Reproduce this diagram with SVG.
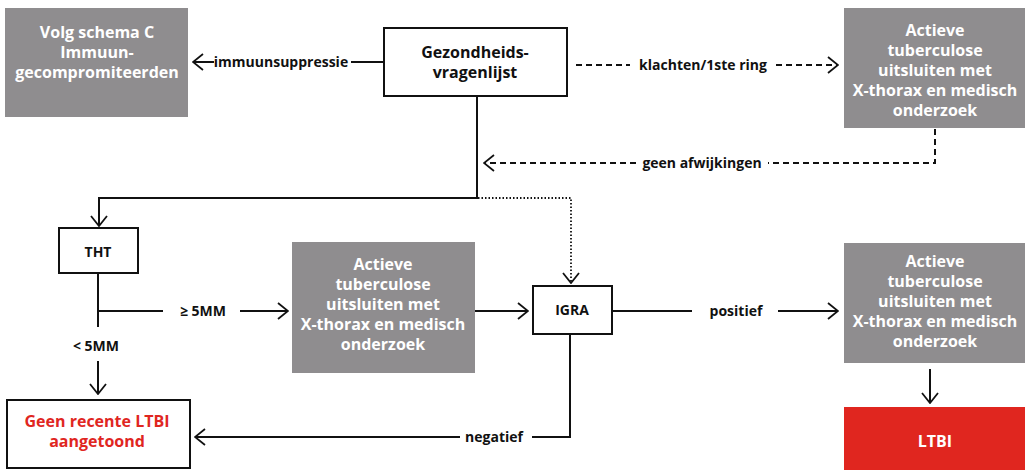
<svg xmlns="http://www.w3.org/2000/svg" width="1025" height="470" viewBox="0 0 1025 470">
<defs>
<marker id="arr" viewBox="0 0 12 18" refX="11" refY="9" markerWidth="12" markerHeight="18" markerUnits="userSpaceOnUse" orient="auto">
<path d="M1,1 L11,9 L1,17" fill="none" stroke="#111" stroke-width="1.8"/>
</marker>
<style>
.gray{fill:#8f8d8f}
.white{fill:#fff;stroke:#111;stroke-width:2}
.red{fill:#e0261f}
.t{font-family:"Open Sans","Liberation Sans",sans-serif;font-weight:700;font-size:16px;text-anchor:middle}
.tw{fill:#fff}
.tb{fill:#111}
.tr{fill:#e0261f}
.l{font-family:"Open Sans","Liberation Sans",sans-serif;font-weight:700;font-size:14px;text-anchor:middle;fill:#111}
.c{fill:none;stroke:#111;stroke-width:2}
.dash{stroke-dasharray:6 4}
.dot{stroke-dasharray:1.5 2;stroke-width:1.8}
</style>
</defs>
<g id="connectors">
<path class="c" d="M383,62 H351"/>
<path class="c" d="M214,62 H193" marker-end="url(#arr)"/>
<path class="c dash" d="M576,65 H630"/>
<path class="c dash" d="M776,65 H838" marker-end="url(#arr)"/>
<path class="c dash" d="M935,129 V163 H768"/>
<path class="c dash" d="M636,163 H484" marker-end="url(#arr)"/>
<path class="c" d="M477,97 V198 H99 V226" marker-end="url(#arr)"/>
<path class="c dot" d="M478,198 H571 V283" marker-end="url(#arr)"/>
<path class="c" d="M98,273 V327"/>
<path class="c" d="M98,311 H163"/>
<path class="c" d="M240,311 H288" marker-end="url(#arr)"/>
<path class="c" d="M475,311 H528" marker-end="url(#arr)"/>
<path class="c" d="M98,361 V394" marker-end="url(#arr)"/>
<path class="c" d="M570,334 V437 H532"/>
<path class="c" d="M460,437 H195" marker-end="url(#arr)"/>
<path class="c" d="M612,311 H692"/>
<path class="c" d="M778,311 H838" marker-end="url(#arr)"/>
<path class="c" d="M930,369 V403" marker-end="url(#arr)"/>
<text class="l" x="281" y="67">immuunsuppressie</text>
<text class="l" x="703" y="70">klachten/1ste ring</text>
<text class="l" x="702" y="168">geen afwijkingen</text>
<text class="l" x="203" y="316">≥ 5MM</text>
<text class="l" x="96" y="351">&lt; 5MM</text>
<text class="l" x="494" y="442">negatief</text>
<text class="l" x="736" y="316">positief</text>
</g>
<g id="n-volg">
<rect class="gray" x="5" y="8" width="183" height="109"/>
<text class="t tw" x="97" y="38">Volg schema C</text>
<text class="t tw" x="97" y="58">Immuun-</text>
<text class="t tw" x="97" y="78">gecompromiteerden</text>
</g>
<g id="n-gez">
<rect class="white" x="384" y="28" width="183" height="68"/>
<text class="t tb" x="475" y="58">Gezondheids-</text>
<text class="t tb" x="475" y="78">vragenlijst</text>
</g>
<g id="n-act1">
<rect class="gray" x="844" y="8" width="181" height="120"/>
<text class="t tw" x="935" y="36">Actieve</text>
<text class="t tw" x="935" y="56">tuberculose</text>
<text class="t tw" x="935" y="76">uitsluiten met</text>
<text class="t tw" x="935" y="96">X-thorax en medisch</text>
<text class="t tw" x="935" y="116">onderzoek</text>
</g>
<g id="n-tht">
<rect class="white" x="59" y="228" width="79" height="45"/>
<text class="t tb" x="98" y="257" style="font-size:14px">THT</text>
</g>
<g id="n-act2">
<rect class="gray" x="292" y="242" width="183" height="131"/>
<text class="t tw" x="383" y="270">Actieve</text>
<text class="t tw" x="383" y="290">tuberculose</text>
<text class="t tw" x="383" y="310">uitsluiten met</text>
<text class="t tw" x="383" y="330">X-thorax en medisch</text>
<text class="t tw" x="383" y="350">onderzoek</text>
</g>
<g id="n-igra">
<rect class="white" x="533" y="286" width="79" height="48"/>
<text class="t tb" x="572" y="315" style="font-size:14px">IGRA</text>
</g>
<g id="n-act3">
<rect class="gray" x="844" y="243" width="181" height="120"/>
<text class="t tw" x="935" y="267">Actieve</text>
<text class="t tw" x="935" y="287">tuberculose</text>
<text class="t tw" x="935" y="307">uitsluiten met</text>
<text class="t tw" x="935" y="327">X-thorax en medisch</text>
<text class="t tw" x="935" y="347">onderzoek</text>
</g>
<g id="n-geen">
<rect class="white" x="7" y="400" width="183" height="68"/>
<text class="t tr" x="97" y="427">Geen recente LTBI</text>
<text class="t tr" x="97" y="447">aangetoond</text>
</g>
<g id="n-ltbi">
<rect class="red" x="844" y="407" width="181" height="63"/>
<text class="t tw" x="935" y="447">LTBI</text>
</g>
</svg>
